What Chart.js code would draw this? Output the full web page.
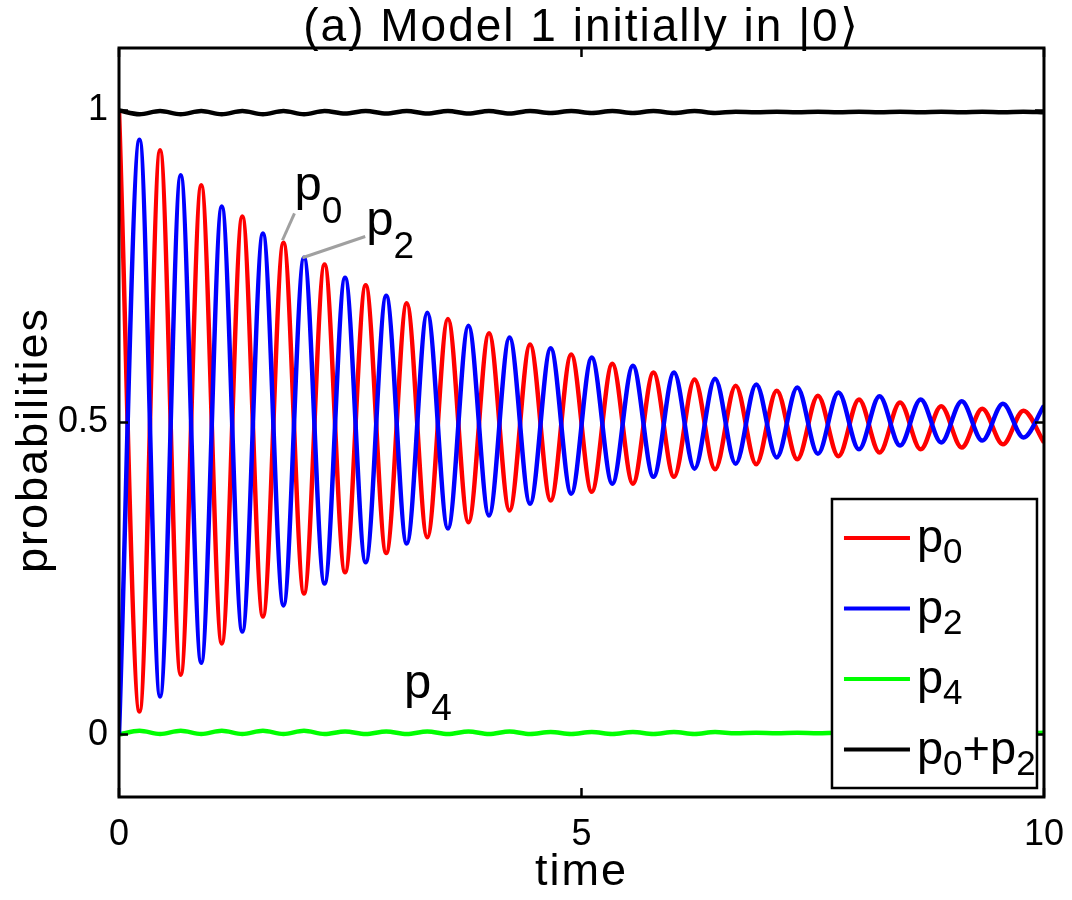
<!DOCTYPE html>
<html>
<head>
<meta charset="utf-8">
<script src="https://cdn.jsdelivr.net/npm/chart.js@4.4.1/dist/chart.umd.min.js"></script>
<style>
html, body { margin: 0; padding: 0; background: #fff; }
#wrap { width: 1072px; height: 900px; }
</style>
</head>
<body>
<div id="wrap"><canvas id="chart" width="1072" height="900"></canvas></div>
<script>
// turning points (every half period)
const times = [0, 0.222, 0.444, 0.667, 0.889, 1.111, 1.333, 1.556, 1.778, 2.000,
  2.222, 2.444, 2.667, 2.889, 3.111, 3.333, 3.556, 3.778, 4.000, 4.222,
  4.444, 4.667, 4.889, 5.111, 5.333, 5.556, 5.778, 6.000, 6.222, 6.444,
  6.667, 6.889, 7.111, 7.333, 7.556, 7.778, 8.000, 8.222, 8.444, 8.667,
  8.889, 9.111, 9.333, 9.556, 9.778, 10.000];
const p0 = [1.000, 0.037, 0.936, 0.096, 0.880, 0.146, 0.830, 0.189, 0.788, 0.226,
  0.753, 0.260, 0.720, 0.291, 0.691, 0.316, 0.666, 0.340, 0.643, 0.359,
  0.625, 0.375, 0.609, 0.389, 0.594, 0.402, 0.580, 0.413, 0.569, 0.425,
  0.559, 0.433, 0.551, 0.441, 0.543, 0.446, 0.537, 0.452, 0.532, 0.457,
  0.526, 0.460, 0.522, 0.465, 0.519, 0.468];
const p2 = [0.000, 0.953, 0.061, 0.896, 0.115, 0.846, 0.165, 0.803, 0.207, 0.764,
  0.242, 0.732, 0.276, 0.703, 0.306, 0.676, 0.330, 0.655, 0.351, 0.636,
  0.370, 0.619, 0.386, 0.604, 0.402, 0.591, 0.413, 0.580, 0.426, 0.570,
  0.434, 0.561, 0.444, 0.556, 0.450, 0.548, 0.457, 0.542, 0.463, 0.537,
  0.468, 0.534, 0.471, 0.530, 0.476, 0.527];
const p4 = [0.000, 0.006, 0.001, 0.006, 0.001, 0.006, 0.001, 0.006, 0.001, 0.006,
  0.001, 0.005, 0.001, 0.005, 0.001, 0.005, 0.001, 0.005, 0.001, 0.005,
  0.001, 0.004, 0.001, 0.004, 0.001, 0.004, 0.001, 0.004, 0.001, 0.004,
  0.002, 0.003, 0.002, 0.003, 0.002, 0.003, 0.002, 0.003, 0.002, 0.003,
  0.002, 0.003, 0.002, 0.003, 0.002, 0.003];
const p0p2 = [1.000, 0.994, 0.999, 0.994, 0.999, 0.994, 0.999, 0.994, 0.999, 0.994,
  0.999, 0.995, 0.999, 0.995, 0.999, 0.995, 0.999, 0.995, 0.999, 0.995,
  0.999, 0.996, 0.999, 0.996, 0.999, 0.996, 0.999, 0.996, 0.999, 0.996,
  0.998, 0.997, 0.998, 0.997, 0.998, 0.997, 0.998, 0.997, 0.998, 0.997,
  0.998, 0.997, 0.998, 0.997, 0.998, 0.997];
const xTicks = [0, 5, 10];
const yTicks = [0, 0.5, 1];
const legendLabels = ['p_0', 'p_2', 'p_4', 'p_0+p_2'];
const colors = ['#ff0000', '#0000ff', '#00ff00', '#000000'];

// text labels on the plot, in data units
const notes = [
  { text: 'p_0', t: 1.897, v: 0.856, sub: 23 },
  { text: 'p_2', t: 2.672, v: 0.800, sub: 23 },
  { text: 'p_4', t: 3.08, v: 0.058, sub: 22 }
];
const leaders = [[1.897, 0.835, 1.767, 0.792], [2.662, 0.798, 1.983, 0.764]];

const FONT = '"Liberation Sans", Arial, sans-serif';

function pts(vals) {
  return vals.map((v, i) => ({ x: times[i], y: v }));
}

// draws "p_0" style strings, char after _ is a subscript
function subText(ctx, text, x, y, size, subSize, subDy) {
  let cx = x;
  for (let i = 0; i < text.length; i++) {
    let ch = text[i];
    let sub = false;
    if (ch === '_') { sub = true; ch = text[++i]; }
    ctx.font = (sub ? subSize : size) + 'px ' + FONT;
    ctx.fillText(ch, cx, sub ? y + subDy : y);
    cx += ctx.measureText(ch).width;
  }
}

const decor = {
  id: 'decor',
  afterDraw(chart) {
    const ctx = chart.ctx;
    const a = chart.chartArea;
    const xs = chart.scales.x, ys = chart.scales.y;
    ctx.save();
    ctx.fillStyle = '#000';

    // annotation leaders + labels
    ctx.strokeStyle = '#a0a0a0';
    ctx.lineWidth = 3;
    leaders.forEach(l => {
      ctx.beginPath();
      ctx.moveTo(xs.getPixelForValue(l[0]), ys.getPixelForValue(l[1]));
      ctx.lineTo(xs.getPixelForValue(l[2]), ys.getPixelForValue(l[3]));
      ctx.stroke();
    });
    ctx.textBaseline = 'alphabetic';
    ctx.textAlign = 'left';
    notes.forEach(n => {
      subText(ctx, n.text, xs.getPixelForValue(n.t), ys.getPixelForValue(n.v), 49, 37, n.sub);
    });

    // axes box and inward ticks
    ctx.strokeStyle = '#000';
    ctx.lineWidth = 3;
    ctx.strokeRect(a.left, a.top, a.right - a.left, a.bottom - a.top);
    ctx.lineWidth = 2.5;
    ctx.beginPath();
    xTicks.forEach(v => {
      const px = xs.getPixelForValue(v);
      ctx.moveTo(px, a.bottom); ctx.lineTo(px, a.bottom - 9);
      ctx.moveTo(px, a.top); ctx.lineTo(px, a.top + 9);
    });
    yTicks.forEach(v => {
      const py = ys.getPixelForValue(v);
      ctx.moveTo(a.left, py); ctx.lineTo(a.left + 9, py);
      ctx.moveTo(a.right, py); ctx.lineTo(a.right - 9, py);
    });
    ctx.stroke();

    // legend
    const bx = a.right - 212, by = a.bottom - 298, bw = 205, bh = 289;
    ctx.fillStyle = '#fff';
    ctx.fillRect(bx, by, bw, bh);
    ctx.lineWidth = 2.5;
    ctx.strokeRect(bx, by, bw, bh);
    legendLabels.forEach((lab, i) => {
      const ry = by + 39 + i * 70.5;
      ctx.strokeStyle = colors[i];
      ctx.lineWidth = 4;
      ctx.beginPath();
      ctx.moveTo(bx + 12, ry); ctx.lineTo(bx + 78, ry);
      ctx.stroke();
      ctx.fillStyle = '#000';
      subText(ctx, lab, bx + 85, ry + 14, 47, 35, 11);
    });

    // title and axis titles
    ctx.fillStyle = '#000';
    ctx.textAlign = 'center';
    if ('letterSpacing' in ctx) ctx.letterSpacing = '2px';
    ctx.font = '46px ' + FONT;
    ctx.fillText('(a) Model 1 initially in |0\u27E9', (a.left + a.right) / 2, 41);
    ctx.font = '45px ' + FONT;
    ctx.fillText('time', (a.left + a.right) / 2, 885);
    ctx.translate(47, 440);
    ctx.rotate(-Math.PI / 2);
    ctx.fillText('probabilities', 0, 0);
    ctx.restore();
  }
};

new Chart(document.getElementById('chart'), {
  type: 'line',
  data: {
    datasets: [
      { label: 'p0', data: pts(p0), borderColor: colors[0], order: 2 },
      { label: 'p2', data: pts(p2), borderColor: colors[1], order: 1 },
      { label: 'p4', data: pts(p4), borderColor: colors[2], order: 3 },
      { label: 'p0+p2', data: pts(p0p2), borderColor: colors[3], order: 0 }
    ]
  },
  options: {
    responsive: false,
    animation: false,
    devicePixelRatio: 1,
    layout: { padding: { top: 48, right: 25, left: 0, bottom: 0 } },
    elements: {
      point: { radius: 0 },
      line: { borderWidth: 4.5, cubicInterpolationMode: 'monotone', borderJoinStyle: 'round', fill: false }
    },
    plugins: { legend: { display: false }, title: { display: false }, tooltip: { enabled: false } },
    scales: {
      x: {
        type: 'linear', min: 0, max: 10,
        afterBuildTicks: s => { s.ticks = xTicks.map(v => ({ value: v })); },
        afterFit: s => { s.height = 103; },
        grid: { display: false }, border: { display: false },
        ticks: { color: '#000', font: { family: FONT, size: 36 }, padding: 8, maxRotation: 0, callback: v => String(v) }
      },
      y: {
        min: -0.1, max: 1.1,
        afterBuildTicks: s => { s.ticks = yTicks.map(v => ({ value: v })); },
        afterFit: s => { s.width = 119; },
        grid: { display: false }, border: { display: false },
        ticks: { color: '#000', font: { family: FONT, size: 36 }, padding: 3, callback: v => String(v) }
      }
    }
  },
  plugins: [decor]
});
</script>
</body>
</html>
